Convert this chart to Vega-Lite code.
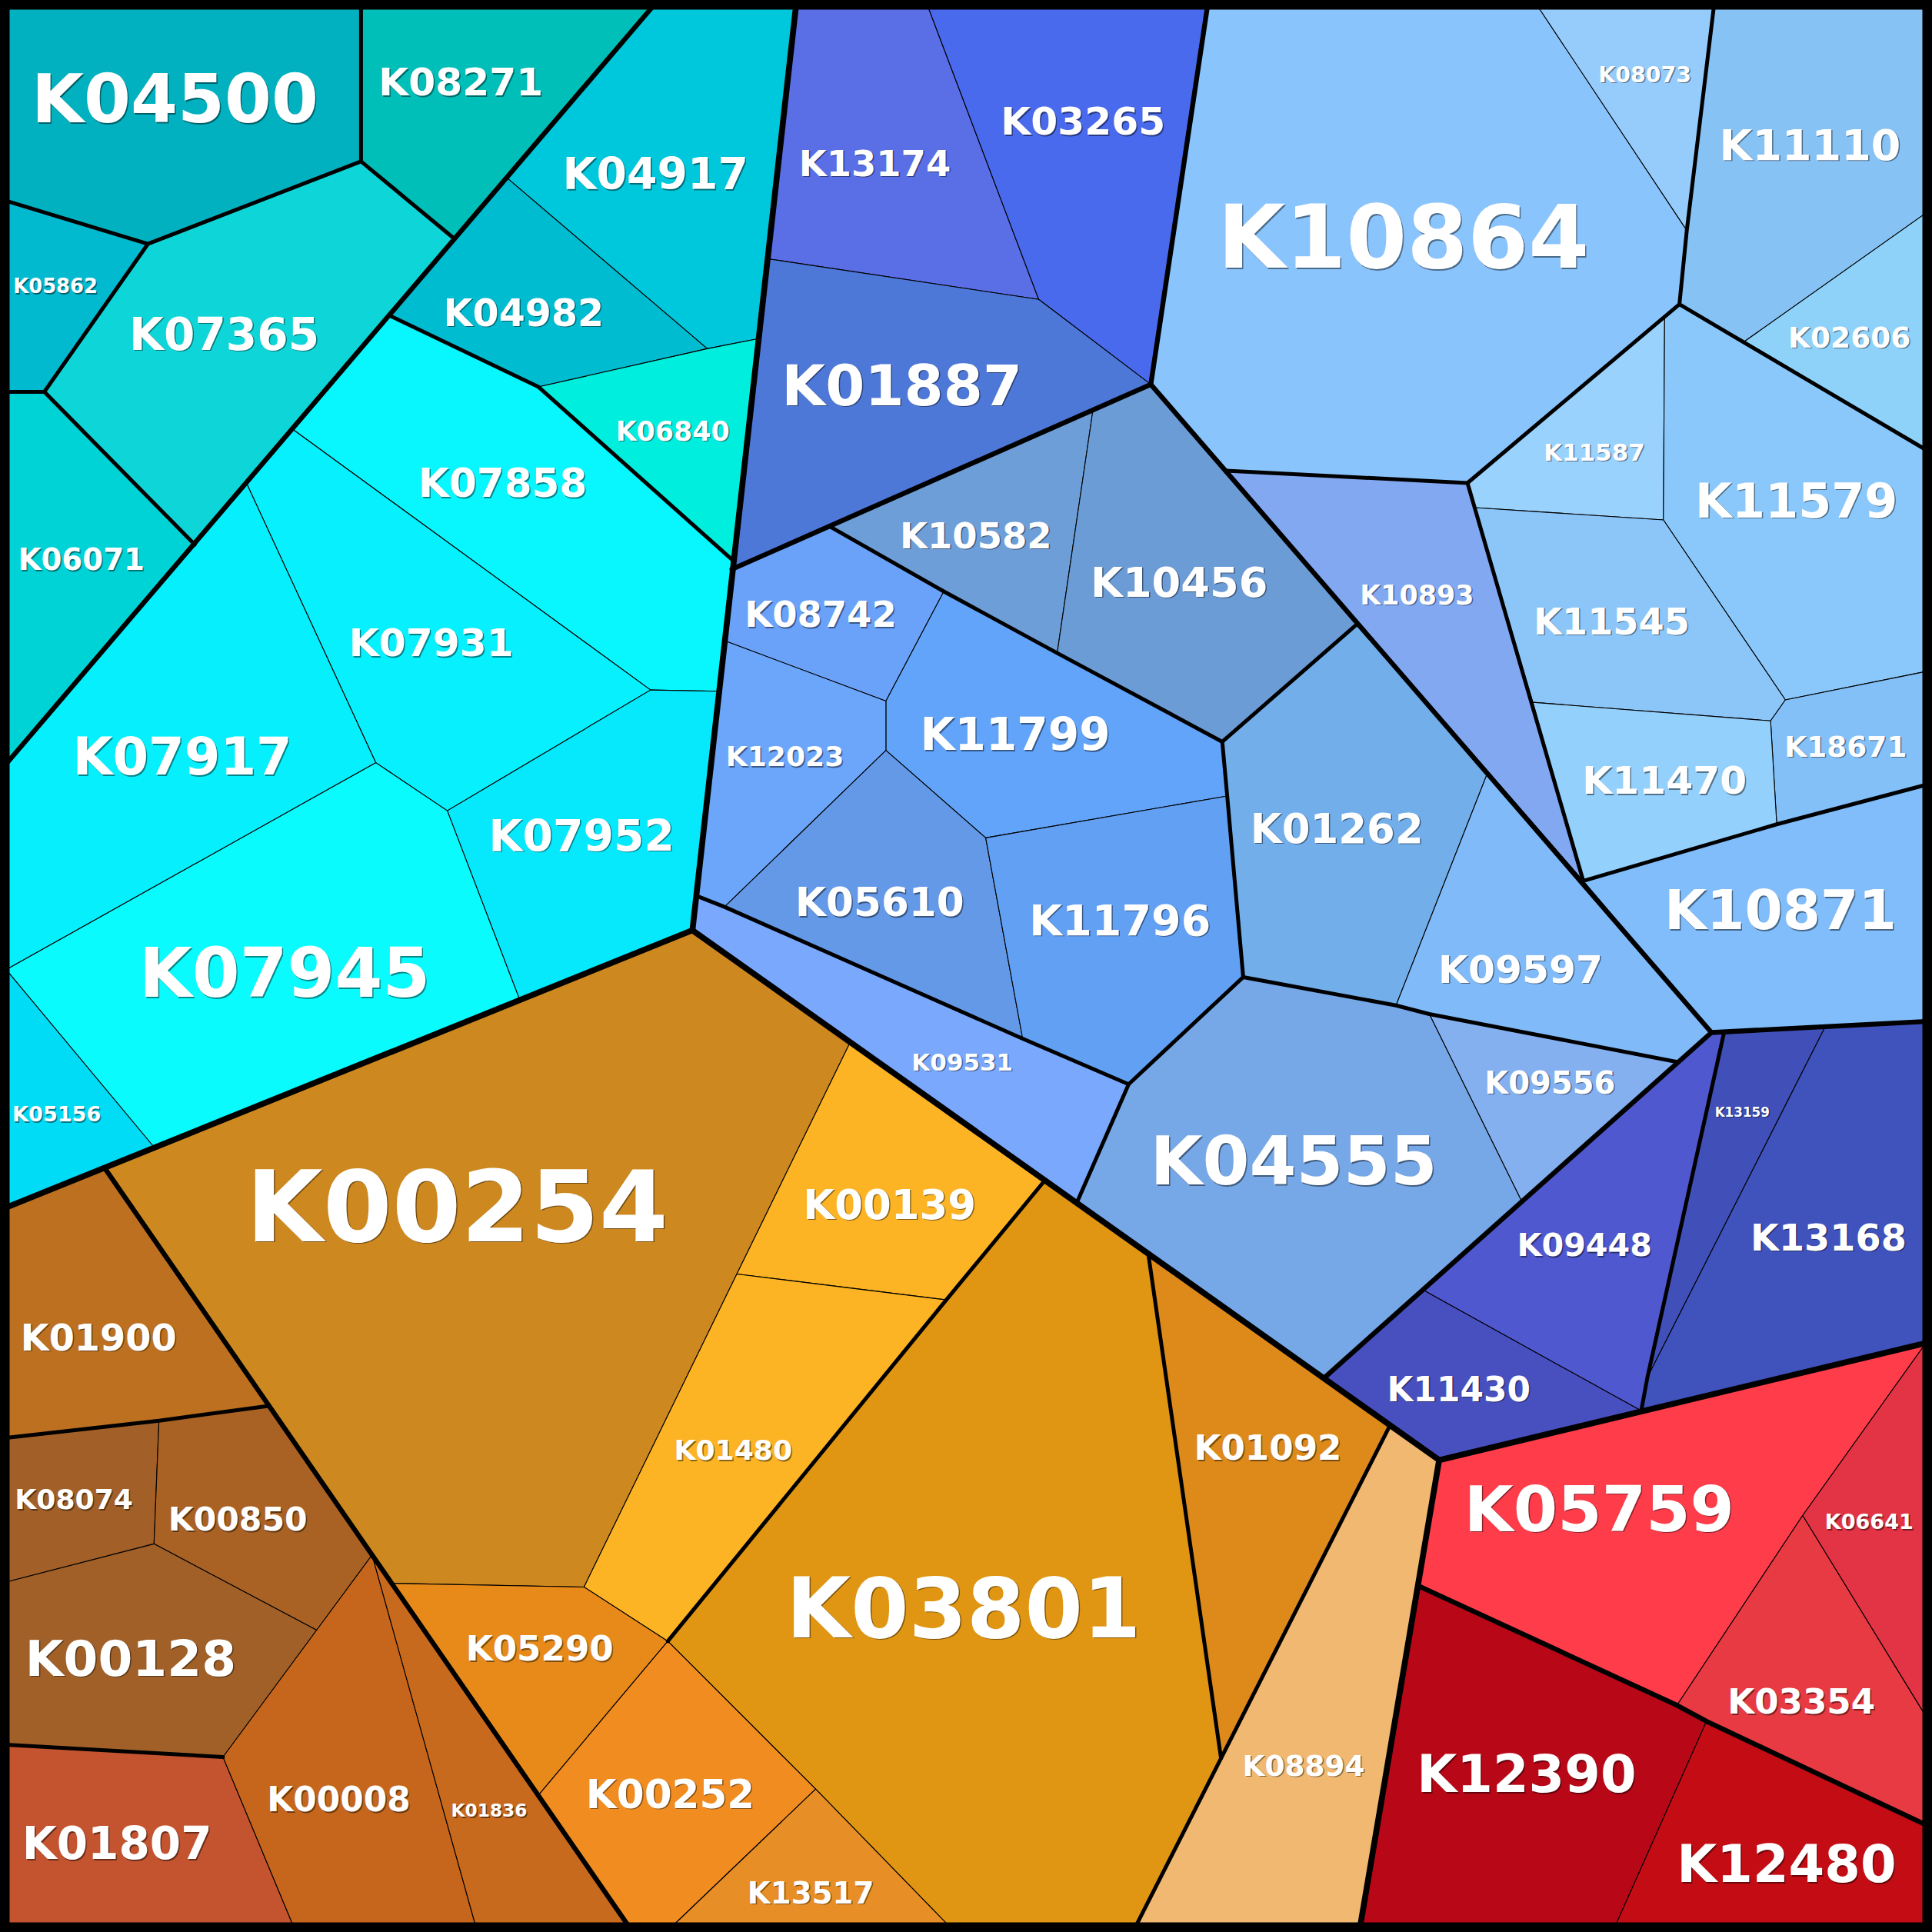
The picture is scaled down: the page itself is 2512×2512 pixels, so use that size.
{
"$schema": "https://vega.github.io/schema/vega-lite/v6.json",
"width": 2512, "height": 2512, "padding": 0, "autosize": {"type": "none"},
"background": "#000000",
"config": {"view": {"stroke": null}},
"projection": {"type": "identity", "scale": 1.60204, "translate": [0, 0]},
"datasets": {
"cells": [
{"type":"Feature","properties":{"name":"K04500"},"geometry":{"type":"Polygon","coordinates":[[[5,5],[293,5],[293,131],[120,198],[5,163],[5,5]]]}},
{"type":"Feature","properties":{"name":"K08271"},"geometry":{"type":"Polygon","coordinates":[[[293,5],[530,5],[369,194],[293,131],[293,5]]]}},
{"type":"Feature","properties":{"name":"K05862"},"geometry":{"type":"Polygon","coordinates":[[[5,163],[120,198],[36,318],[5,318],[5,163]]]}},
{"type":"Feature","properties":{"name":"K07365"},"geometry":{"type":"Polygon","coordinates":[[[120,198],[293,131],[369,194],[158,442],[36,318],[120,198]]]}},
{"type":"Feature","properties":{"name":"K06071"},"geometry":{"type":"Polygon","coordinates":[[[5,318],[36,318],[158,442],[5,620],[5,318]]]}},
{"type":"Feature","properties":{"name":"K04917"},"geometry":{"type":"Polygon","coordinates":[[[530,5],[646,5],[615,275],[574,283],[411,144],[530,5]]]}},
{"type":"Feature","properties":{"name":"K04982"},"geometry":{"type":"Polygon","coordinates":[[[411,144],[574,283],[437,314],[316,256],[411,144]]]}},
{"type":"Feature","properties":{"name":"K06840"},"geometry":{"type":"Polygon","coordinates":[[[437,314],[574,283],[615,275],[595,455],[437,314]]]}},
{"type":"Feature","properties":{"name":"K07858"},"geometry":{"type":"Polygon","coordinates":[[[316,256],[437,314],[595,455],[583,561],[528,560],[237,348],[316,256]]]}},
{"type":"Feature","properties":{"name":"K07931"},"geometry":{"type":"Polygon","coordinates":[[[237,348],[528,560],[363,658],[305,619],[200,392],[237,348]]]}},
{"type":"Feature","properties":{"name":"K07952"},"geometry":{"type":"Polygon","coordinates":[[[528,560],[583,561],[562,755],[422,812],[363,658],[528,560]]]}},
{"type":"Feature","properties":{"name":"K07917"},"geometry":{"type":"Polygon","coordinates":[[[5,620],[200,392],[305,619],[5,787],[5,620]]]}},
{"type":"Feature","properties":{"name":"K07945"},"geometry":{"type":"Polygon","coordinates":[[[305,619],[363,658],[422,812],[125,931],[5,787],[305,619]]]}},
{"type":"Feature","properties":{"name":"K05156"},"geometry":{"type":"Polygon","coordinates":[[[5,787],[125,931],[5,980],[5,787]]]}},
{"type":"Feature","properties":{"name":"K13174"},"geometry":{"type":"Polygon","coordinates":[[[646,5],[753,5],[843,243],[623,210],[646,5]]]}},
{"type":"Feature","properties":{"name":"K03265"},"geometry":{"type":"Polygon","coordinates":[[[753,5],[980,5],[934,312],[843,243],[753,5]]]}},
{"type":"Feature","properties":{"name":"K01887"},"geometry":{"type":"Polygon","coordinates":[[[623,210],[843,243],[934,312],[594,462],[623,210]]]}},
{"type":"Feature","properties":{"name":"K10864"},"geometry":{"type":"Polygon","coordinates":[[[980,5],[1248,5],[1369,187],[1363,247],[1191,392],[995,382],[934,312],[980,5]]]}},
{"type":"Feature","properties":{"name":"K08073"},"geometry":{"type":"Polygon","coordinates":[[[1248,5],[1391,5],[1369,187],[1248,5]]]}},
{"type":"Feature","properties":{"name":"K11110"},"geometry":{"type":"Polygon","coordinates":[[[1391,5],[1563,5],[1563,173],[1416,277],[1363,247],[1369,187],[1391,5]]]}},
{"type":"Feature","properties":{"name":"K02606"},"geometry":{"type":"Polygon","coordinates":[[[1416,277],[1563,173],[1563,365],[1416,277]]]}},
{"type":"Feature","properties":{"name":"K11587"},"geometry":{"type":"Polygon","coordinates":[[[1191,392],[1351,258],[1350,422],[1197,412],[1191,392]]]}},
{"type":"Feature","properties":{"name":"K11579"},"geometry":{"type":"Polygon","coordinates":[[[1363,247],[1416,277],[1563,365],[1563,545],[1449,568],[1350,422],[1351,258],[1363,247]]]}},
{"type":"Feature","properties":{"name":"K11545"},"geometry":{"type":"Polygon","coordinates":[[[1197,412],[1350,422],[1449,568],[1437,585],[1244,570],[1197,412]]]}},
{"type":"Feature","properties":{"name":"K18671"},"geometry":{"type":"Polygon","coordinates":[[[1449,568],[1563,545],[1563,637],[1442,669],[1437,585],[1449,568]]]}},
{"type":"Feature","properties":{"name":"K11470"},"geometry":{"type":"Polygon","coordinates":[[[1244,570],[1437,585],[1442,669],[1285,715],[1244,570]]]}},
{"type":"Feature","properties":{"name":"K10871"},"geometry":{"type":"Polygon","coordinates":[[[1285,715],[1442,669],[1563,637],[1563,829],[1389,838],[1285,715]]]}},
{"type":"Feature","properties":{"name":"K10893"},"geometry":{"type":"Polygon","coordinates":[[[995,382],[1191,392],[1285,715],[995,382]]]}},
{"type":"Feature","properties":{"name":"K10582"},"geometry":{"type":"Polygon","coordinates":[[[673,427],[887,333],[858,530],[766,480],[673,427]]]}},
{"type":"Feature","properties":{"name":"K10456"},"geometry":{"type":"Polygon","coordinates":[[[887,333],[934,312],[1102,506],[992,602],[858,530],[887,333]]]}},
{"type":"Feature","properties":{"name":"K08742"},"geometry":{"type":"Polygon","coordinates":[[[594,462],[673,427],[766,480],[719,569],[588,520],[594,462]]]}},
{"type":"Feature","properties":{"name":"K11799"},"geometry":{"type":"Polygon","coordinates":[[[766,480],[858,530],[992,602],[996,646],[800,680],[719,609],[719,569],[766,480]]]}},
{"type":"Feature","properties":{"name":"K12023"},"geometry":{"type":"Polygon","coordinates":[[[588,520],[719,569],[719,609],[588,736],[565,727],[588,520]]]}},
{"type":"Feature","properties":{"name":"K05610"},"geometry":{"type":"Polygon","coordinates":[[[588,736],[719,609],[800,680],[830,843],[588,736]]]}},
{"type":"Feature","properties":{"name":"K11796"},"geometry":{"type":"Polygon","coordinates":[[[800,680],[996,646],[1009,793],[916,880],[830,843],[800,680]]]}},
{"type":"Feature","properties":{"name":"K09531"},"geometry":{"type":"Polygon","coordinates":[[[565,727],[588,736],[830,843],[916,880],[874,976],[562,755],[565,727]]]}},
{"type":"Feature","properties":{"name":"K01262"},"geometry":{"type":"Polygon","coordinates":[[[992,602],[1102,506],[1207,628],[1133,816],[1009,793],[996,646],[992,602]]]}},
{"type":"Feature","properties":{"name":"K09597"},"geometry":{"type":"Polygon","coordinates":[[[1207,628],[1389,838],[1362,862],[1160,823],[1133,816],[1207,628]]]}},
{"type":"Feature","properties":{"name":"K09556"},"geometry":{"type":"Polygon","coordinates":[[[1160,823],[1362,862],[1235,975],[1160,823]]]}},
{"type":"Feature","properties":{"name":"K04555"},"geometry":{"type":"Polygon","coordinates":[[[1009,793],[1133,816],[1160,823],[1235,975],[1155,1047],[1075,1118],[874,976],[916,880],[1009,793]]]}},
{"type":"Feature","properties":{"name":"K09448"},"geometry":{"type":"Polygon","coordinates":[[[1389,838],[1399,839],[1337,1118],[1332,1145],[1155,1047],[1389,838]]]}},
{"type":"Feature","properties":{"name":"K11430"},"geometry":{"type":"Polygon","coordinates":[[[1075,1118],[1155,1047],[1332,1145],[1168,1185],[1075,1118]]]}},
{"type":"Feature","properties":{"name":"K13159"},"geometry":{"type":"Polygon","coordinates":[[[1399,839],[1481,834],[1337,1118],[1399,839]]]}},
{"type":"Feature","properties":{"name":"K13168"},"geometry":{"type":"Polygon","coordinates":[[[1481,834],[1563,829],[1563,1090],[1332,1145],[1337,1118],[1481,834]]]}},
{"type":"Feature","properties":{"name":"K00254"},"geometry":{"type":"Polygon","coordinates":[[[85,948],[562,755],[690,846],[598,1034],[474,1288],[318,1285],[85,948]]]}},
{"type":"Feature","properties":{"name":"K00139"},"geometry":{"type":"Polygon","coordinates":[[[690,846],[848,958],[768,1055],[598,1034],[690,846]]]}},
{"type":"Feature","properties":{"name":"K01480"},"geometry":{"type":"Polygon","coordinates":[[[598,1034],[768,1055],[542,1332],[474,1288],[598,1034]]]}},
{"type":"Feature","properties":{"name":"K03801"},"geometry":{"type":"Polygon","coordinates":[[[848,958],[932,1018],[991,1427],[922,1563],[770,1563],[662,1452],[542,1332],[768,1055],[848,958]]]}},
{"type":"Feature","properties":{"name":"K01092"},"geometry":{"type":"Polygon","coordinates":[[[932,1018],[1128,1157],[991,1427],[932,1018]]]}},
{"type":"Feature","properties":{"name":"K08894"},"geometry":{"type":"Polygon","coordinates":[[[1128,1157],[1168,1185],[1104,1563],[922,1563],[991,1427],[1128,1157]]]}},
{"type":"Feature","properties":{"name":"K05290"},"geometry":{"type":"Polygon","coordinates":[[[318,1285],[474,1288],[542,1332],[437,1457],[318,1285]]]}},
{"type":"Feature","properties":{"name":"K00252"},"geometry":{"type":"Polygon","coordinates":[[[437,1457],[542,1332],[662,1452],[546,1563],[510,1563],[437,1457]]]}},
{"type":"Feature","properties":{"name":"K13517"},"geometry":{"type":"Polygon","coordinates":[[[546,1563],[662,1452],[770,1563],[546,1563]]]}},
{"type":"Feature","properties":{"name":"K01900"},"geometry":{"type":"Polygon","coordinates":[[[5,980],[85,948],[218,1141],[129,1153],[5,1167],[5,980]]]}},
{"type":"Feature","properties":{"name":"K08074"},"geometry":{"type":"Polygon","coordinates":[[[5,1167],[129,1153],[125,1253],[5,1284],[5,1167]]]}},
{"type":"Feature","properties":{"name":"K00850"},"geometry":{"type":"Polygon","coordinates":[[[129,1153],[218,1141],[302,1262],[257,1323],[125,1253],[129,1153]]]}},
{"type":"Feature","properties":{"name":"K00128"},"geometry":{"type":"Polygon","coordinates":[[[5,1284],[125,1253],[257,1323],[181,1426],[5,1416],[5,1284]]]}},
{"type":"Feature","properties":{"name":"K01807"},"geometry":{"type":"Polygon","coordinates":[[[5,1416],[181,1426],[238,1563],[5,1563],[5,1416]]]}},
{"type":"Feature","properties":{"name":"K00008"},"geometry":{"type":"Polygon","coordinates":[[[181,1426],[257,1323],[302,1262],[386,1563],[238,1563],[181,1426]]]}},
{"type":"Feature","properties":{"name":"K01836"},"geometry":{"type":"Polygon","coordinates":[[[302,1262],[510,1563],[386,1563],[302,1262]]]}},
{"type":"Feature","properties":{"name":"K05759"},"geometry":{"type":"Polygon","coordinates":[[[1168,1185],[1563,1090],[1463,1230],[1361,1384],[1151,1287],[1168,1185]]]}},
{"type":"Feature","properties":{"name":"K06641"},"geometry":{"type":"Polygon","coordinates":[[[1563,1090],[1563,1393],[1463,1230],[1563,1090]]]}},
{"type":"Feature","properties":{"name":"K03354"},"geometry":{"type":"Polygon","coordinates":[[[1463,1230],[1563,1393],[1563,1481],[1385,1397],[1361,1384],[1463,1230]]]}},
{"type":"Feature","properties":{"name":"K12390"},"geometry":{"type":"Polygon","coordinates":[[[1151,1287],[1361,1384],[1385,1397],[1311,1563],[1104,1563],[1151,1287]]]}},
{"type":"Feature","properties":{"name":"K12480"},"geometry":{"type":"Polygon","coordinates":[[[1385,1397],[1563,1481],[1563,1563],[1311,1563],[1385,1397]]]}}
],
"borders": [
{"type":"Feature","properties":{"level":0},"geometry":{"type":"LineString","coordinates":[[5,5],[1563,5],[1563,1563],[5,1563],[5,5]]}},
{"type":"Feature","properties":{"level":1},"geometry":{"type":"LineString","coordinates":[[646,5],[562,755],[5,980]]}},
{"type":"Feature","properties":{"level":1},"geometry":{"type":"LineString","coordinates":[[562,755],[1168,1185],[1104,1563]]}},
{"type":"Feature","properties":{"level":1},"geometry":{"type":"LineString","coordinates":[[1168,1185],[1563,1090]]}},
{"type":"Feature","properties":{"level":2},"geometry":{"type":"LineString","coordinates":[[530,5],[5,620]]}},
{"type":"Feature","properties":{"level":2},"geometry":{"type":"LineString","coordinates":[[980,5],[934,312],[594,462]]}},
{"type":"Feature","properties":{"level":2},"geometry":{"type":"LineString","coordinates":[[934,312],[1389,838],[1075,1118]]}},
{"type":"Feature","properties":{"level":2},"geometry":{"type":"LineString","coordinates":[[1389,838],[1563,829]]}},
{"type":"Feature","properties":{"level":2},"geometry":{"type":"LineString","coordinates":[[85,948],[510,1563]]}},
{"type":"Feature","properties":{"level":2},"geometry":{"type":"LineString","coordinates":[[1151,1287],[1361,1384],[1385,1397],[1563,1481]]}},
{"type":"Feature","properties":{"level":3},"geometry":{"type":"LineString","coordinates":[[316,256],[437,314],[595,455]]}},
{"type":"Feature","properties":{"level":3},"geometry":{"type":"LineString","coordinates":[[293,5],[293,131],[120,198],[5,163]]}},
{"type":"Feature","properties":{"level":3},"geometry":{"type":"LineString","coordinates":[[293,131],[369,194]]}},
{"type":"Feature","properties":{"level":3},"geometry":{"type":"LineString","coordinates":[[120,198],[36,318],[5,318]]}},
{"type":"Feature","properties":{"level":3},"geometry":{"type":"LineString","coordinates":[[36,318],[158,442]]}},
{"type":"Feature","properties":{"level":3},"geometry":{"type":"LineString","coordinates":[[995,382],[1191,392],[1285,715]]}},
{"type":"Feature","properties":{"level":3},"geometry":{"type":"LineString","coordinates":[[1191,392],[1363,247],[1369,187],[1391,5]]}},
{"type":"Feature","properties":{"level":3},"geometry":{"type":"LineString","coordinates":[[1363,247],[1563,365]]}},
{"type":"Feature","properties":{"level":3},"geometry":{"type":"LineString","coordinates":[[1285,715],[1442,669],[1563,637]]}},
{"type":"Feature","properties":{"level":3},"geometry":{"type":"LineString","coordinates":[[673,427],[766,480],[858,530],[992,602],[1102,506]]}},
{"type":"Feature","properties":{"level":3},"geometry":{"type":"LineString","coordinates":[[992,602],[996,646],[1009,793],[916,880]]}},
{"type":"Feature","properties":{"level":3},"geometry":{"type":"LineString","coordinates":[[1009,793],[1133,816],[1160,823],[1362,862]]}},
{"type":"Feature","properties":{"level":3},"geometry":{"type":"LineString","coordinates":[[565,727],[588,736],[830,843],[916,880],[874,976]]}},
{"type":"Feature","properties":{"level":3},"geometry":{"type":"LineString","coordinates":[[1399,839],[1337,1118],[1332,1145]]}},
{"type":"Feature","properties":{"level":3},"geometry":{"type":"LineString","coordinates":[[848,958],[768,1055],[542,1332]]}},
{"type":"Feature","properties":{"level":3},"geometry":{"type":"LineString","coordinates":[[1128,1157],[991,1427],[922,1563]]}},
{"type":"Feature","properties":{"level":3},"geometry":{"type":"LineString","coordinates":[[932,1018],[991,1427]]}},
{"type":"Feature","properties":{"level":3},"geometry":{"type":"LineString","coordinates":[[5,1167],[129,1153],[218,1141]]}},
{"type":"Feature","properties":{"level":3},"geometry":{"type":"LineString","coordinates":[[5,1416],[181,1426]]}}
],
"labels": [
{"name":"K04500","x":142,"y":80,"weight":68},
{"name":"K08271","x":374,"y":65,"weight":39},
{"name":"K04917","x":532,"y":140,"weight":44},
{"name":"K05862","x":45,"y":230,"weight":20},
{"name":"K07365","x":182,"y":270,"weight":45},
{"name":"K04982","x":425,"y":252,"weight":38},
{"name":"K06840","x":546,"y":348,"weight":27},
{"name":"K06071","x":66,"y":452,"weight":30},
{"name":"K07858","x":408,"y":391,"weight":40},
{"name":"K07931","x":350,"y":520,"weight":39},
{"name":"K07917","x":148,"y":613,"weight":52},
{"name":"K07952","x":472,"y":677,"weight":44},
{"name":"K07945","x":231,"y":789,"weight":69},
{"name":"K05156","x":46,"y":902,"weight":21},
{"name":"K13174","x":710,"y":131,"weight":36},
{"name":"K03265","x":879,"y":97,"weight":39},
{"name":"K01887","x":732,"y":312,"weight":57},
{"name":"K10864","x":1139,"y":193,"weight":88},
{"name":"K08073","x":1335,"y":58,"weight":22},
{"name":"K11110","x":1469,"y":116,"weight":43},
{"name":"K02606","x":1501,"y":272,"weight":29},
{"name":"K11587","x":1294,"y":365,"weight":24},
{"name":"K11579","x":1458,"y":405,"weight":48},
{"name":"K10893","x":1150,"y":481,"weight":27},
{"name":"K11545","x":1308,"y":503,"weight":37},
{"name":"K18671","x":1498,"y":604,"weight":29},
{"name":"K11470","x":1351,"y":632,"weight":39},
{"name":"K10871","x":1445,"y":738,"weight":55},
{"name":"K10582","x":792,"y":433,"weight":36},
{"name":"K10456","x":957,"y":471,"weight":42},
{"name":"K08742","x":666,"y":497,"weight":36},
{"name":"K11799","x":824,"y":595,"weight":45},
{"name":"K12023","x":637,"y":612,"weight":28},
{"name":"K05610","x":714,"y":731,"weight":40},
{"name":"K11796","x":909,"y":745,"weight":43},
{"name":"K01262","x":1085,"y":671,"weight":41},
{"name":"K09597","x":1234,"y":785,"weight":39},
{"name":"K09531","x":781,"y":860,"weight":24},
{"name":"K09556","x":1258,"y":877,"weight":31},
{"name":"K04555","x":1050,"y":942,"weight":68},
{"name":"K09448","x":1286,"y":1009,"weight":32},
{"name":"K13159","x":1414,"y":900,"weight":13},
{"name":"K13168","x":1484,"y":1003,"weight":37},
{"name":"K11430","x":1184,"y":1126,"weight":34},
{"name":"K00254","x":371,"y":980,"weight":100},
{"name":"K00139","x":722,"y":976,"weight":41},
{"name":"K01480","x":595,"y":1175,"weight":28},
{"name":"K03801","x":782,"y":1305,"weight":84},
{"name":"K01092","x":1029,"y":1173,"weight":35},
{"name":"K08894","x":1058,"y":1431,"weight":29},
{"name":"K05290","x":438,"y":1336,"weight":35},
{"name":"K00252","x":544,"y":1455,"weight":40},
{"name":"K13517","x":658,"y":1534,"weight":30},
{"name":"K01900","x":80,"y":1084,"weight":37},
{"name":"K08074","x":60,"y":1215,"weight":28},
{"name":"K00850","x":193,"y":1231,"weight":33},
{"name":"K00128","x":106,"y":1345,"weight":50},
{"name":"K01807","x":95,"y":1495,"weight":45},
{"name":"K00008","x":275,"y":1459,"weight":34},
{"name":"K01836","x":397,"y":1467,"weight":18},
{"name":"K05759","x":1298,"y":1224,"weight":64},
{"name":"K06641","x":1517,"y":1233,"weight":21},
{"name":"K03354","x":1462,"y":1379,"weight":35},
{"name":"K12390","x":1239,"y":1439,"weight":52},
{"name":"K12480","x":1450,"y":1512,"weight":52}
]
},
"layer": [
{
"data": {"name": "cells"},
"mark": {"type": "geoshape", "stroke": "#000000", "strokeWidth": 1.1, "strokeJoin": "round"},
"encoding": {
"fill": {"field": "properties.name", "type": "nominal", "legend": null,
"scale": {
"domain": ["K04500","K08271","K05862","K07365","K06071","K04917","K04982","K06840","K07858","K07931","K07952","K07917","K07945","K05156","K13174","K03265","K01887","K10864","K08073","K11110","K02606","K11587","K11579","K11545","K18671","K11470","K10871","K10893","K10582","K10456","K08742","K11799","K12023","K05610","K11796","K09531","K01262","K09597","K09556","K04555","K09448","K11430","K13159","K13168","K00254","K00139","K01480","K03801","K01092","K08894","K05290","K00252","K13517","K01900","K08074","K00850","K00128","K01807","K00008","K01836","K05759","K06641","K03354","K12390","K12480"],
"range": ["#02b1c0","#00bfb9","#02bad0","#0ed6d8","#00d3d6","#00c8dc","#00bcd0","#00eedd","#08f6fe","#06f0fe","#06e8fc","#06effc","#0afbfe","#00dcf6","#5a6ee6","#4a6aee","#4e78d8","#8ac4fc","#96ccfc","#86c2f4","#8ed2fa","#9ad2fe","#8ac8fc","#8cc6f8","#84c0f8","#94d0fc","#80bdfa","#82a8f2","#6e9ed8","#6c9cd6","#6aa2fa","#62a4fa","#6ca6fa","#6499e8","#62a0f4","#7aa8fc","#72aeea","#80baf8","#84b0f0","#76a8e8","#5058d0","#4850c0","#4050b8","#4052bc","#cd8820","#fcb424","#fcb424","#e09612","#de8a1a","#f0b870","#e88a1a","#f08c20","#e88e26","#bc7020","#a26028","#aa6224","#a06028","#c45430","#c6661c","#c86a1e","#ff3c4a","#e23444","#e83a42","#b80818","#c40c14"]
}
}
}
},
{
"data": {"name": "borders"},
"mark": {"type": "geoshape", "filled": false, "stroke": "#000000", "strokeJoin": "round", "strokeCap": "round"},
"encoding": {
"strokeWidth": {"field": "properties.level", "type": "ordinal", "legend": null,
"scale": {"domain": [0, 1, 2, 3], "range": [9, 5, 3.2, 2]}}
}
},
{
"data": {"name": "labels"},
"mark": {"type": "text", "font": "DejaVu Sans", "fontWeight": "bold", "align": "center", "baseline": "middle", "fill": "#000000", "opacity": 0.45, "dx": 1.5, "dy": 6.5},
"encoding": {
"longitude": {"field": "x", "type": "quantitative"},
"latitude": {"field": "y", "type": "quantitative"},
"text": {"field": "name"},
"size": {"field": "weight", "type": "quantitative", "legend": null, "scale": {"domain": [0, 100], "range": [0, 129]}}
}
},
{
"data": {"name": "labels"},
"mark": {"type": "text", "font": "DejaVu Sans", "fontWeight": "bold", "align": "center", "baseline": "middle", "fill": "#ffffff", "dy": 5},
"encoding": {
"longitude": {"field": "x", "type": "quantitative"},
"latitude": {"field": "y", "type": "quantitative"},
"text": {"field": "name"},
"size": {"field": "weight", "type": "quantitative", "legend": null, "scale": {"domain": [0, 100], "range": [0, 129]}}
}
}
]
}
